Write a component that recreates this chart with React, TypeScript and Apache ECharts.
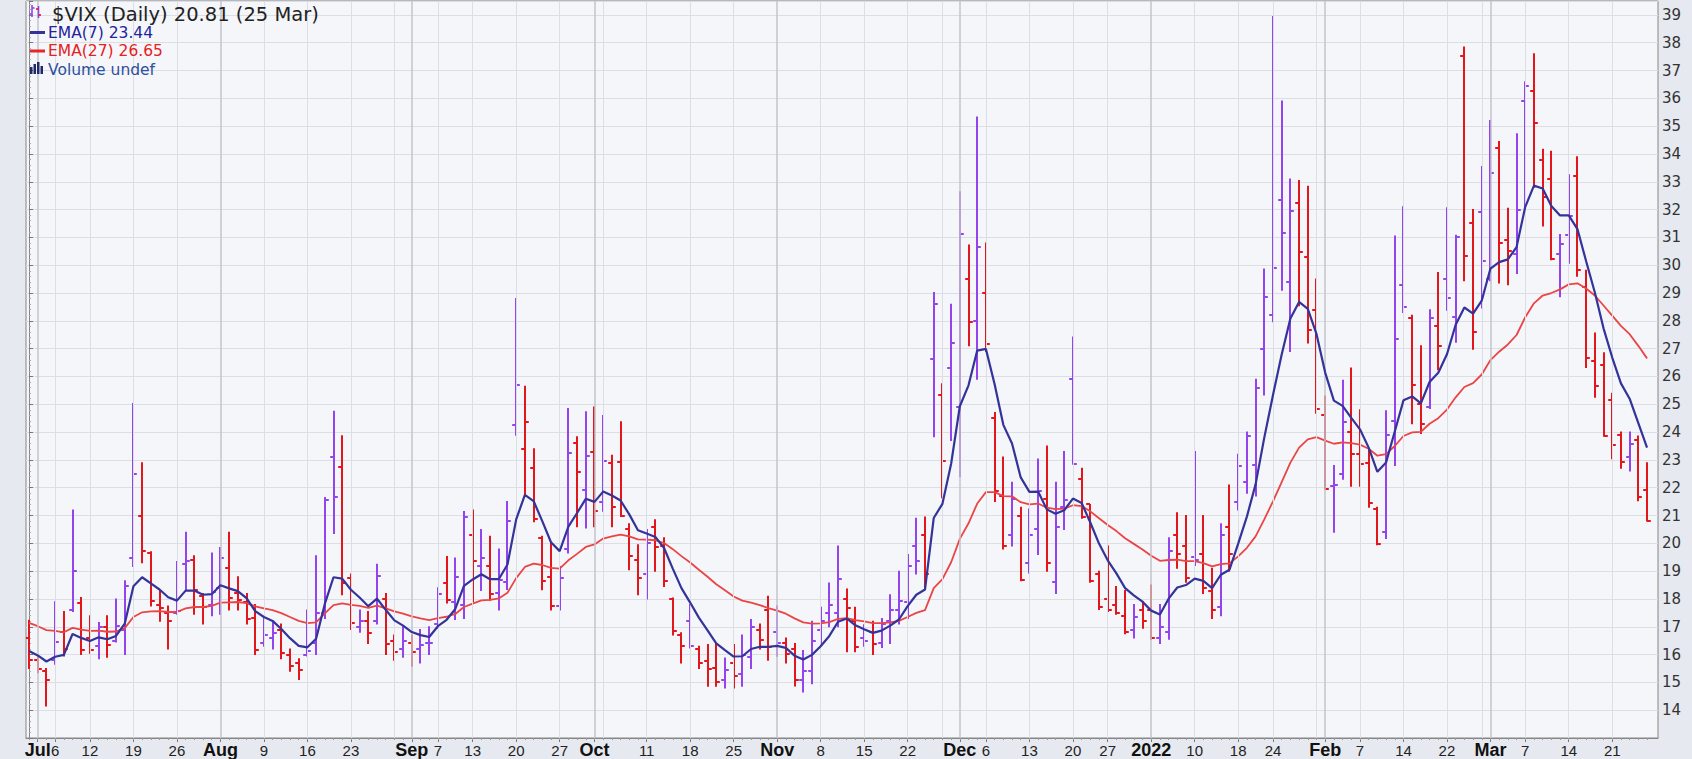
import React, { useEffect, useRef } from "react";
import * as echarts from "echarts";

// ---- Data: $VIX daily, 30 Jun 2021 .. 25 Mar 2022 (index 0 = 30 Jun) ----
const opens = [
  16.6, 15.8, 15.4, 15.8, 16.8, 17.6, 17.85, 16.6, 16.3, 17.0,
  16.5, 16.9, 19.47, 21.0, 19.65, 17.8, 17.5, 17.5, 19.25, 19.4,
  18.1, 17.8, 18.4, 19.1, 18.2, 17.9, 17.3, 16.4, 16.6, 16.9,
  16.0, 15.7, 16.0, 16.4, 17.5, 23.1, 22.75, 18.75, 17.0, 17.2,
  17.2, 18.0, 16.5, 16.2, 16.4, 16.2, 16.4, 17.1, 18.57, 17.9,
  17.8, 20.3, 19.2, 19.2, 18.2, 18.6, 24.25, 23.38, 22.7, 20.2,
  18.8, 17.75, 19.8, 23.6, 21.9, 23.3, 21.5, 22.9, 22.93, 20.5,
  19.4, 18.9, 20.6, 19.9, 18.0, 16.7, 17.2, 16.2, 15.76, 15.5,
  15.1, 15.7, 15.3, 15.9, 16.9, 17.6, 16.8, 16.4, 16.2, 15.1,
  15.4, 16.9, 17.5, 17.5, 18.0, 17.2, 16.6, 16.8, 16.4, 17.2,
  17.6, 17.9, 19.9, 20.3, 26.63, 25.33, 26.3, 24.9, 29.5, 28.0,
  29.0, 24.5, 21.7, 20.3, 21.0, 19.3, 20.5, 21.6, 18.6, 21.3,
  25.9, 22.3, 21.4, 18.9, 18.0, 17.8, 17.4, 16.9, 17.6, 17.6,
  16.6, 16.8, 20.3, 19.9, 19.5, 19.6, 18.3, 17.7, 20.6, 21.5,
  22.2, 22.8, 27.0, 28.2, 32.35, 29.4, 32.24, 30.3, 28.4, 24.6,
  22.05, 22.5, 24.0, 23.2, 22.9, 21.25, 20.4, 24.4, 29.3, 28.1,
  25.0, 24.9, 27.8, 29.5, 28.13, 37.52, 31.5, 31.9, 29.5, 34.2,
  30.9, 30.4, 35.9, 36.26, 33.8, 33.1, 30.4, 31.1, 33.2, 29.2,
  26.57, 26.4, 25.17, 23.9, 23.1, 23.7, 21.9,
];
const highs = [
  17.23, 15.95, 15.5, 17.9, 17.55, 21.2, 18.05, 17.4, 17.15, 17.4,
  18.0, 18.65, 25.03, 22.9, 19.7, 18.3, 17.75, 19.35, 20.4, 19.55,
  18.2, 19.65, 19.85, 20.4, 18.8, 18.2, 17.8, 17.3, 17.2, 17.1,
  16.2, 15.85, 17.6, 19.55, 21.65, 24.75, 23.87, 18.9, 17.6, 17.55,
  19.25, 18.2, 16.7, 17.0, 16.7, 16.9, 17.0, 18.4, 19.53, 19.47,
  21.14, 21.2, 20.5, 20.25, 19.8, 21.5, 28.8, 25.65, 23.4, 20.25,
  20.0, 19.17, 24.85, 23.83, 24.73, 24.9, 24.6, 23.17, 24.37, 20.7,
  19.95, 20.5, 20.85, 20.2, 18.03, 16.78, 17.8, 16.3, 16.36, 16.4,
  15.88, 16.36, 16.7, 17.26, 17.1, 18.1, 17.75, 16.6, 16.4, 16.15,
  17.2, 17.7, 18.57, 19.9, 18.36, 17.7, 17.07, 17.2, 17.3, 18.15,
  19.0, 19.6, 20.9, 20.95, 29.02, 25.74, 28.6, 32.64, 30.73, 35.33,
  30.8, 24.7, 23.1, 22.2, 21.3, 21.23, 23.03, 23.5, 22.2, 23.3,
  27.42, 22.7, 21.4, 19.0, 19.9, 18.45, 18.3, 17.8, 17.9, 18.5,
  17.8, 20.2, 21.1, 21.0, 23.3, 21.0, 19.1, 20.7, 22.1, 23.2,
  24.0, 25.9, 29.86, 38.94, 35.9, 33.1, 33.05, 32.84, 29.5, 25.3,
  22.8, 25.86, 26.3, 24.8, 23.4, 21.3, 24.77, 31.05, 32.1, 28.2,
  27.1, 28.4, 29.74, 32.07, 31.08, 37.85, 32.0, 33.55, 35.2, 34.45,
  32.05, 34.73, 36.6, 37.6, 34.17, 34.1, 31.1, 33.25, 33.9, 29.82,
  27.56, 26.85, 25.4, 24.0, 24.0, 23.86, 22.9,
];
const lows = [
  15.5, 15.35, 14.15, 15.65, 15.95, 17.55, 16.0, 16.05, 15.85, 15.9,
  16.45, 16.0, 19.17, 19.3, 17.75, 17.2, 16.2, 17.45, 18.3, 17.45,
  17.1, 17.4, 17.45, 17.6, 17.6, 17.1, 16.0, 16.3, 16.2, 15.85,
  15.4, 15.1, 15.95, 16.0, 17.3, 20.35, 18.15, 16.9, 16.8, 16.4,
  17.1, 16.0, 15.8, 15.9, 15.58, 15.7, 16.0, 16.95, 17.85, 17.26,
  17.3, 17.9, 18.3, 17.95, 17.6, 18.34, 23.89, 21.68, 20.78, 18.33,
  17.6, 17.6, 19.65, 20.6, 20.55, 20.6, 21.15, 20.6, 20.96, 19.05,
  18.15, 18.0, 19.0, 18.45, 16.7, 15.7, 16.24, 15.5, 14.86, 14.86,
  14.8, 14.8, 14.86, 15.5, 16.2, 15.8, 15.94, 15.7, 14.87, 14.65,
  14.95, 16.4, 17.0, 17.0, 16.1, 16.1, 16.3, 16.0, 16.25, 16.4,
  17.1, 17.3, 18.9, 18.4, 23.83, 21.64, 23.7, 22.39, 27.1, 25.9,
  26.9, 21.5, 19.8, 19.9, 18.65, 18.93, 19.6, 19.0, 18.2, 20.5,
  22.84, 20.9, 18.6, 17.62, 17.55, 17.45, 16.75, 16.6, 16.95, 16.55,
  16.4, 16.55, 19.1, 18.6, 19.2, 18.2, 17.3, 17.4, 19.0, 21.2,
  21.8, 21.7, 25.33, 27.97, 29.1, 26.9, 28.54, 27.2, 24.68, 21.95,
  20.4, 22.3, 22.05, 22.05, 21.3, 19.95, 20.17, 22.8, 28.3, 24.3,
  23.95, 24.85, 26.24, 28.38, 27.23, 29.44, 26.98, 28.46, 29.44, 29.36,
  29.3, 29.7, 32.1, 32.8, 31.41, 30.2, 28.87, 30.07, 29.6, 26.32,
  25.25, 23.85, 23.04, 22.7, 22.6, 21.53, 20.8,
];
const closes = [
  15.8, 15.48, 15.07, 16.44, 16.2, 19.0, 16.18, 16.17, 16.99, 16.33,
  17.01, 18.45, 22.5, 19.73, 17.91, 17.69, 17.2, 17.58, 19.36, 18.31,
  17.7, 18.24, 19.46, 18.04, 17.97, 17.28, 16.15, 16.72, 16.79, 16.06,
  15.59, 15.45, 16.12, 17.5, 21.57, 21.67, 18.56, 17.15, 17.22, 16.79,
  18.84, 16.39, 16.11, 16.48, 16.11, 16.35, 16.41, 18.18, 17.96, 18.8,
  20.95, 19.37, 19.46, 18.18, 18.69, 20.81, 25.71, 24.36, 20.87, 18.63,
  17.75, 18.76, 23.25, 22.56, 23.14, 21.15, 22.96, 21.3, 21.0, 19.54,
  18.77, 20.0, 19.85, 18.64, 16.86, 16.3, 16.32, 15.7, 15.49, 15.01,
  15.43, 15.24, 15.98, 16.98, 16.53, 16.26, 16.41, 16.03, 15.1, 15.4,
  16.48, 17.22, 17.78, 18.73, 17.66, 16.29, 16.49, 16.37, 17.11, 17.59,
  17.91, 19.17, 19.38, 18.9, 28.62, 22.96, 27.19, 31.12, 27.95, 30.67,
  27.18, 21.89, 19.9, 21.58, 18.69, 20.31, 21.89, 19.29, 20.57, 21.57,
  22.87, 20.95, 18.64, 17.7, 17.6, 17.5, 16.8, 17.35, 17.22, 16.6,
  17.0, 19.73, 19.61, 18.76, 19.4, 18.41, 17.62, 20.31, 19.6, 22.79,
  23.85, 25.59, 28.85, 29.9, 31.16, 31.96, 30.49, 27.66, 24.83, 21.96,
  22.09, 24.35, 23.22, 22.86, 21.44, 19.96, 23.91, 27.36, 28.5, 25.7,
  24.29, 28.11, 27.1, 28.81, 31.02, 30.32, 27.59, 30.15, 33.32, 30.8,
  30.5, 31.98, 36.45, 35.13, 32.45, 30.23, 30.75, 31.77, 29.83, 26.67,
  25.67, 23.87, 23.53, 22.94, 23.57, 21.67, 20.81,
];
const ema7 = [
  16.13, 15.97, 15.75, 15.92, 15.99, 16.74, 16.6, 16.49, 16.62, 16.55,
  16.67, 17.11, 18.46, 18.78, 18.56, 18.34, 18.06, 17.94, 18.3, 18.3,
  18.15, 18.17, 18.49, 18.38, 18.28, 18.03, 17.56, 17.35, 17.21, 16.92,
  16.59, 16.31, 16.26, 16.57, 17.82, 18.78, 18.73, 18.33, 18.05, 17.74,
  18.01, 17.61, 17.23, 17.04, 16.81, 16.7, 16.63, 17.02, 17.25, 17.64,
  18.47, 18.7, 18.89, 18.71, 18.71, 19.24, 20.86, 21.74, 21.52, 20.8,
  20.04, 19.72, 20.6, 21.09, 21.6, 21.49, 21.86, 21.72, 21.54, 21.04,
  20.47, 20.35, 20.23, 19.83, 19.09, 18.39, 17.87, 17.33, 16.87, 16.4,
  16.16, 15.93, 15.94, 16.2, 16.28, 16.28, 16.31, 16.24, 15.96, 15.82,
  15.99, 16.3, 16.67, 17.18, 17.3, 17.05, 16.91, 16.78, 16.86, 17.04,
  17.26, 17.74, 18.15, 18.34, 20.91, 21.42, 22.86, 24.93, 25.68, 26.93,
  26.99, 25.72, 24.26, 23.59, 22.37, 21.85, 21.86, 21.22, 21.06, 21.19,
  21.61, 21.45, 20.75, 19.99, 19.39, 18.92, 18.39, 18.13, 17.9, 17.58,
  17.44, 18.01, 18.41, 18.5, 18.73, 18.65, 18.39, 18.87, 19.05, 19.99,
  20.96, 22.12, 23.8, 25.33, 26.79, 28.08, 28.68, 28.43, 27.53, 26.14,
  25.13, 24.94, 24.51, 24.1, 23.44, 22.57, 22.91, 24.02, 25.14, 25.28,
  25.03, 25.8, 26.13, 26.8, 27.86, 28.48, 28.26, 28.73, 29.88, 30.11,
  30.21, 30.65, 32.1, 32.86, 32.76, 32.13, 31.79, 31.79, 31.3, 30.14,
  29.02, 27.73, 26.68, 25.75, 25.2, 24.32, 23.44,
];
const ema27 = [
  17.14, 17.02, 16.88, 16.85, 16.8, 16.96, 16.9, 16.85, 16.86, 16.82,
  16.83, 16.95, 17.35, 17.52, 17.55, 17.56, 17.53, 17.53, 17.66, 17.71,
  17.71, 17.75, 17.87, 17.88, 17.89, 17.85, 17.73, 17.66, 17.6, 17.49,
  17.35, 17.21, 17.13, 17.16, 17.48, 17.78, 17.84, 17.79, 17.75, 17.68,
  17.76, 17.66, 17.55, 17.47, 17.37, 17.3, 17.24, 17.31, 17.36, 17.46,
  17.71, 17.83, 17.95, 17.97, 18.02, 18.22, 18.75, 19.15, 19.27, 19.22,
  19.12, 19.09, 19.39, 19.62, 19.87, 19.96, 20.17, 20.25, 20.31, 20.25,
  20.14, 20.13, 20.11, 20.01, 19.79, 19.54, 19.31, 19.05, 18.8, 18.53,
  18.31, 18.09, 17.94, 17.87, 17.78, 17.67, 17.58, 17.47, 17.3, 17.16,
  17.11, 17.12, 17.17, 17.28, 17.31, 17.24, 17.19, 17.13, 17.13, 17.16,
  17.21, 17.35, 17.5, 17.6, 18.39, 18.71, 19.32, 20.16, 20.72, 21.43,
  21.84, 21.84, 21.7, 21.69, 21.48, 21.4, 21.43, 21.28, 21.23, 21.25,
  21.37, 21.34, 21.15, 20.9, 20.66, 20.44, 20.18, 19.98, 19.78, 19.55,
  19.37, 19.4, 19.41, 19.36, 19.36, 19.29, 19.17, 19.25, 19.28, 19.53,
  19.84, 20.25, 20.86, 21.51, 22.2, 22.9, 23.44, 23.74, 23.82, 23.69,
  23.58, 23.63, 23.6, 23.55, 23.4, 23.15, 23.21, 23.5, 23.86, 23.99,
  24.01, 24.3, 24.5, 24.81, 25.25, 25.62, 25.76, 26.07, 26.59, 26.89,
  27.15, 27.49, 28.13, 28.63, 28.91, 29.0, 29.13, 29.31, 29.35, 29.16,
  28.91, 28.55, 28.19, 27.82, 27.52, 27.1, 26.65,
];

// x-axis tick labels (bar index -> label)
const labelIdx = [1, 3, 7, 12, 17, 22, 27, 32, 37, 44, 47, 51, 56, 61, 65, 71, 76, 81, 86, 91, 96, 101, 107, 110, 115, 120, 124, 129, 134, 139, 143, 149, 153, 158, 163, 168, 172, 177, 182];
const labelText = ["Jul", "6", "12", "19", "26", "Aug", "9", "16", "23", "Sep", "7", "13", "20", "27", "Oct", "11", "18", "25", "Nov", "8", "15", "22", "Dec", "6", "13", "20", "27", "2022", "10", "18", "24", "Feb", "7", "14", "22", "Mar", "7", "14", "21"];
const boldLabels = ["Jul", "Aug", "Sep", "Oct", "Nov", "Dec", "2022", "Feb", "Mar"];
const weekIdx = [3, 7, 12, 17, 27, 32, 37, 42, 47, 51, 56, 61, 66, 71, 76, 81, 91, 96, 101, 105, 110, 115, 120, 124, 134, 139, 143, 148, 153, 158, 163, 167, 172, 177, 182];
const monthIdx = [1, 22, 44, 65, 86, 107, 129, 149, 168];
const lastDateText = "25 Mar";

const UP = "#9444ee";
const DOWN = "#e3161c";
const EMA7_C = "#333399";
const EMA27_C = "#ea4545";
const SANS = "'Liberation Sans', Arial, Helvetica, sans-serif";
const VERD = "'DejaVu Sans', Verdana, sans-serif";

export default function App() {
  const ref = useRef<HTMLDivElement>(null);

  useEffect(() => {
    const el = ref.current;
    if (!el) return;
    const chart = echarts.init(el, null, { renderer: "svg" });

    const n = closes.length;
    const ohlc = closes.map((c, i) => [
      i, opens[i], highs[i], lows[i], c,
      i === 0 ? (c >= opens[i] ? 1 : 0) : (c >= closes[i - 1] ? 1 : 0),
    ]);
    const dayIdx = closes.map((_, i) => i);
    const labelMap = new Map<number, string>();
    labelIdx.forEach((v, k) => labelMap.set(v, labelText[k]));

    const xMin = -0.35;
    const xMax = n - 1 + 1.26;

    const gridLineSeries = (idx: number[], color: string, width: number, z: number) => ({
      type: "line",
      data: [],
      z,
      silent: true,
      markLine: {
        silent: true,
        symbol: ["none", "none"],
        label: { show: false },
        emphasis: { disabled: true },
        lineStyle: { color, width, type: "solid" },
        data: idx.map((v) => ({ xAxis: v })),
      },
    });

    const option: any = {
      animation: false,
      backgroundColor: "transparent",
      grid: {
        left: 26,
        right: 34,
        top: 1,
        bottom: 21,
        show: true,
        backgroundColor: "#f5f6fa",
        borderColor: "#868686",
        borderWidth: 1,
      },
      xAxis: [
        {
          type: "value",
          min: xMin,
          max: xMax,
          position: "bottom",
          axisLine: { show: true, lineStyle: { color: "#868686", width: 1 } },
          axisTick: { show: true, customValues: labelIdx, length: 4, lineStyle: { color: "#777" } },
          splitLine: { show: false },
          axisLabel: {
            show: true,
            customValues: labelIdx,
            margin: 2,
            hideOverlap: false,
            formatter: (v: number) => {
              const t = labelMap.get(Math.round(v));
              if (!t) return "";
              return boldLabels.indexOf(t) >= 0 ? `{b|${t}}` : `{n|${t}}`;
            },
            rich: {
              n: { fontSize: 15, fontFamily: SANS, color: "#222", lineHeight: 20 },
              b: { fontSize: 18, fontWeight: "bold", fontFamily: SANS, color: "#111", lineHeight: 20 },
            },
          },
        },
        {
          type: "value",
          min: xMin,
          max: xMax,
          position: "bottom",
          axisLine: { show: false },
          axisTick: { show: true, customValues: dayIdx, length: 2, lineStyle: { color: "#999" } },
          axisLabel: { show: false },
          splitLine: { show: false },
        },
      ],
      yAxis: {
        type: "value",
        position: "right",
        min: 13,
        max: 39.5,
        interval: 1,
        axisLine: { show: true, lineStyle: { color: "#868686" } },
        axisTick: { show: true, length: 4, lineStyle: { color: "#777" } },
        minorTick: { show: true, splitNumber: 5, length: 2, lineStyle: { color: "#aaa" } },
        splitLine: { show: true, lineStyle: { color: "#dcdee4", width: 1 } },
        axisLabel: {
          margin: 4,
          fontSize: 15,
          fontFamily: VERD,
          color: "#333",
          formatter: (v: number) => (Number.isInteger(v) && v >= 14 && v <= 39 ? String(v) : ""),
        },
      },
      series: [
        gridLineSeries(weekIdx, "#dcdee4", 1, 1),
        gridLineSeries(monthIdx, "#c3c5cc", 1.5, 1),
        {
          type: "custom",
          name: "$VIX",
          z: 3,
          clip: true,
          encode: { x: 0, y: [1, 2, 3, 4] },
          data: ohlc,
          renderItem: (_params: any, api: any) => {
            const x = api.value(0);
            const pH = api.coord([x, api.value(2)]);
            const pL = api.coord([x, api.value(3)]);
            const pO = api.coord([x, api.value(1)]);
            const pC = api.coord([x, api.value(4)]);
            const px = Math.round(pH[0]);
            const color = api.value(5) ? UP : DOWN;
            const t = 3.8;
            const style = { stroke: color, lineWidth: 2 };
            const yo = Math.round(pO[1]);
            const yc = Math.round(pC[1]);
            return {
              type: "group",
              children: [
                { type: "line", shape: { x1: px, y1: pH[1] - 0.5, x2: px, y2: pL[1] + 0.5 }, style },
                { type: "line", shape: { x1: px - t, y1: yo, x2: px, y2: yo }, style },
                { type: "line", shape: { x1: px, y1: yc, x2: px + t, y2: yc }, style },
              ],
            };
          },
        },
        {
          type: "line",
          name: "EMA(27)",
          z: 4,
          showSymbol: false,
          symbol: "none",
          clip: true,
          lineStyle: { color: EMA27_C, width: 1.8 },
          data: ema27.map((v, i) => [i, v]),
        },
        {
          type: "line",
          name: "EMA(7)",
          z: 5,
          showSymbol: false,
          symbol: "none",
          clip: true,
          lineStyle: { color: EMA7_C, width: 2.2 },
          data: ema7.map((v, i) => [i, v]),
        },
      ],
      graphic: [
        // $VIX icon
        { type: "line", z: 100, shape: { x1: 32, y1: 5, x2: 32, y2: 17 }, style: { stroke: UP, lineWidth: 1.6 } },
        { type: "line", z: 100, shape: { x1: 29.5, y1: 14, x2: 32, y2: 14 }, style: { stroke: UP, lineWidth: 1.6 } },
        { type: "line", z: 100, shape: { x1: 32, y1: 8, x2: 34.5, y2: 8 }, style: { stroke: UP, lineWidth: 1.6 } },
        { type: "line", z: 100, shape: { x1: 38.5, y1: 6, x2: 38.5, y2: 18 }, style: { stroke: UP, lineWidth: 1.6 } },
        { type: "line", z: 100, shape: { x1: 36, y1: 9, x2: 38.5, y2: 9 }, style: { stroke: DOWN, lineWidth: 1.6 } },
        { type: "line", z: 100, shape: { x1: 38.5, y1: 15, x2: 41, y2: 15 }, style: { stroke: DOWN, lineWidth: 1.6 } },
        {
          type: "text", z: 100, x: 52, y: 14,
          style: { text: `$VIX (Daily) ${closes[n - 1].toFixed(2)} (${lastDateText})`, fontSize: 19.5, fontFamily: VERD, fill: "#222", verticalAlign: "middle" },
        },
        // EMA(7)
        { type: "line", z: 100, shape: { x1: 30, y1: 32.5, x2: 45, y2: 32.5 }, style: { stroke: EMA7_C, lineWidth: 3 } },
        {
          type: "text", z: 100, x: 48, y: 32.5,
          style: { text: `EMA(7) ${ema7[n - 1].toFixed(2)}`, fontSize: 15.5, fontFamily: VERD, fill: "#23239a", verticalAlign: "middle" },
        },
        // EMA(27)
        { type: "line", z: 100, shape: { x1: 30, y1: 51, x2: 45, y2: 51 }, style: { stroke: "#e82626", lineWidth: 3 } },
        {
          type: "text", z: 100, x: 48, y: 51,
          style: { text: `EMA(27) ${ema27[n - 1].toFixed(2)}`, fontSize: 15.5, fontFamily: VERD, fill: "#e32222", verticalAlign: "middle" },
        },
        // Volume icon
        { type: "rect", z: 100, shape: { x: 30, y: 67, width: 2.5, height: 7 }, style: { fill: "#1f2a6b" } },
        { type: "rect", z: 100, shape: { x: 33.5, y: 64, width: 2.5, height: 10 }, style: { fill: "#1f2a6b" } },
        { type: "rect", z: 100, shape: { x: 37, y: 62, width: 2.5, height: 12 }, style: { fill: "#1f2a6b" } },
        { type: "rect", z: 100, shape: { x: 40.5, y: 66, width: 2.5, height: 8 }, style: { fill: "#1f2a6b" } },
        {
          type: "text", z: 100, x: 48, y: 69.5,
          style: { text: "Volume undef", fontSize: 15.5, fontFamily: VERD, fill: "#2d4f9c", verticalAlign: "middle" },
        },
      ],
    };

    chart.setOption(option);
    return () => {
      chart.dispose();
    };
  }, []);

  return (
    <div
      ref={ref}
      style={{
        position: "fixed",
        left: 0,
        top: 0,
        width: 1692,
        height: 759,
        background: "#e6e9ef",
      }}
    />
  );
}
